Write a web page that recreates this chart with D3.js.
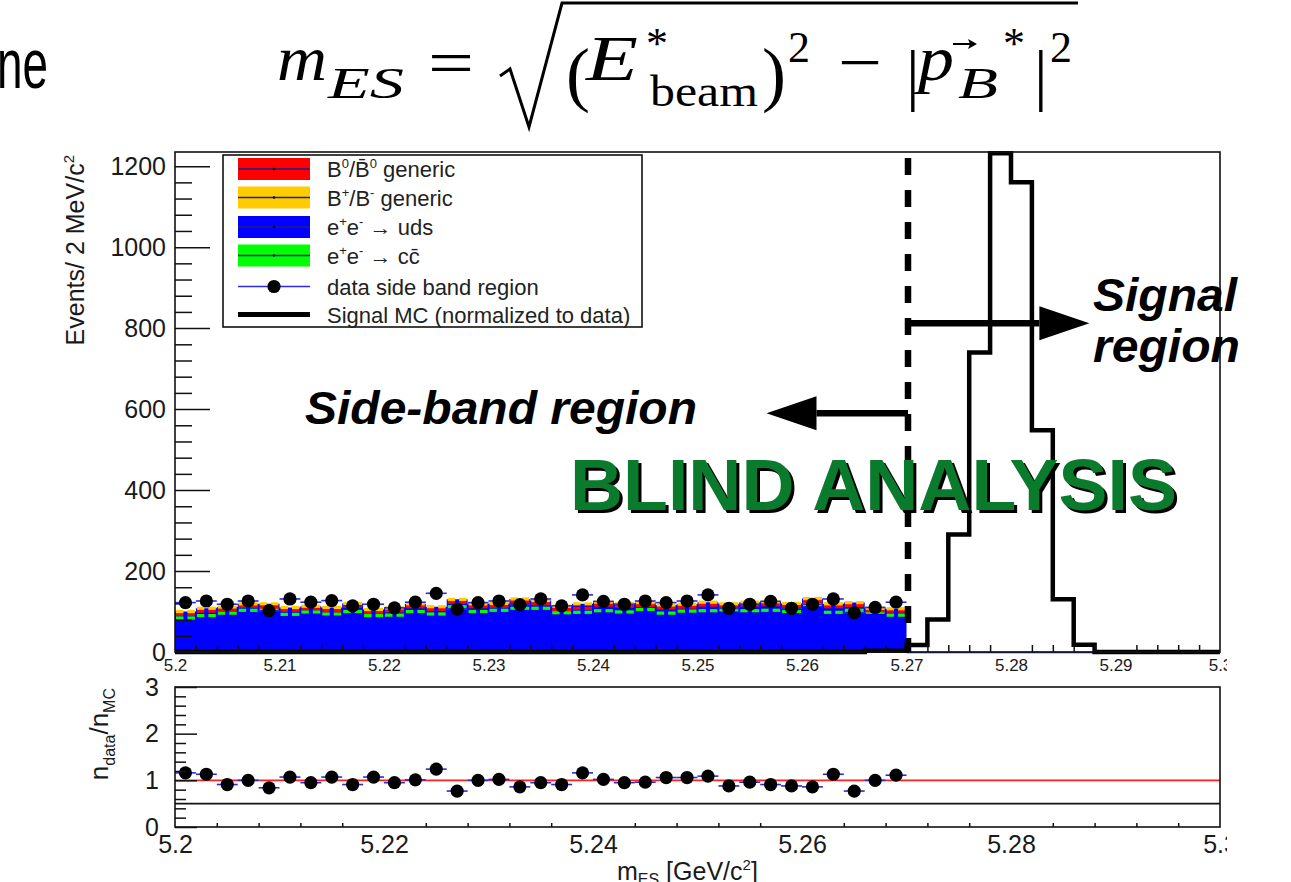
<!DOCTYPE html>
<html><head><meta charset="utf-8">
<script src="https://cdn.jsdelivr.net/npm/d3@7"></script>
<style>
body{margin:0;background:#fff;}
svg{display:block;font-family:"Liberation Sans",Arial,sans-serif;}
</style></head><body>
<svg id="c" width="1291" height="882"></svg>
<script>
// ---------------- DATA ----------------
const binLow = 5.2, binWidth = 0.002, nBins = 50;
const xTicksMain = [5.2,5.21,5.22,5.23,5.24,5.25,5.26,5.27,5.28,5.29,5.3];
const xTickLabelsMain = ["5.2","5.21","5.22","5.23","5.24","5.25","5.26","5.27","5.28","5.29","5.3"];
const yTicksMain = [0,200,400,600,800,1000,1200];
const xTicksRatio = [5.2,5.22,5.24,5.26,5.28,5.3];
const xTickLabelsRatio = ["5.2","5.22","5.24","5.26","5.28","5.3"];
const yTicksRatio = [0,1,2,3];

// data in side band (35 bins, 5.200-5.270)
const dataSideBand = [122,126,118,126,102,131,123,127,114,118,109,123,145,106,122,126,117,131,114,141,125,118,126,122,126,141,108,118,125,108,118,131,97,110,123];
// data in signal region (blinded: empty)
const dataSignalRegion = [0,0,0,0,0,0,0,0,0,0,0,0,0,0,0];
// MC backgrounds, stacked
const mcUds   = [76,83,87,95,97,84,92,86,92,82,82,92,87,104,92,94,100,100,90,90,94,90,97,88,94,94,96,94,94,92,109,90,96,90,82];
const mcCcbar = [8,7,9,8,8,9,7,8,8,8,9,8,7,8,8,9,8,8,7,8,8,9,8,8,7,8,8,8,9,8,8,8,7,8,9];
const mcB0    = [9,11,7,10,6,10,8,8,13,8,11,12,11,11,12,10,16,11,8,10,14,14,10,13,10,14,8,14,14,13,8,14,12,4,10];
const mcBpm   = [7,7,8,6,8,7,6,8,7,7,7,7,7,7,7,7,7,8,8,11,7,7,7,7,7,7,7,7,7,7,7,7,7,6,6];
// Signal MC (50 bins)
const signalMC = [0,0,0,0,0,0,0,0,0,0,0,0,0,0,0,0,0,0,0,0,0,0,0,0,0,0,0,0,0,0,0,0,0,3,3,
                  17,80,290,740,1232,1160,548,130,18,0,0,0,0,0,0];
// ratio n_data / n_MC (35 bins)
const ratio = [1.16,1.13,0.91,1.0,0.84,1.07,0.95,1.07,0.91,1.07,0.95,1.01,1.24,0.77,1.0,1.02,0.86,0.95,0.91,1.16,1.02,0.95,0.96,1.06,1.06,1.09,0.88,0.96,0.91,0.88,0.86,1.13,0.77,1.0,1.11];

const legendColors = ["#ff0000","#ffcc00","#0000ff","#00ff00"];
const legendLabels = [
  [["B",0],["0",1],["/",0],["B\u0304",0],["0",1],["  generic",0]],
  [["B",0],["+",1],["/B",0],["-",1],["  generic",0]],
  [["e",0],["+",1],["e",0],["-",1],["  \u2192 uds",0]],
  [["e",0],["+",1],["e",0],["-",1],["  \u2192 c",0],["c\u0304",0]],
  [["data side band region",0]],
  [["Signal MC (normalized to data)",0]]
];

// ---------------- SETUP ----------------
const svg = d3.select("#c");
const X0 = 175, X1 = 1220, Y0 = 652, Y1 = 152;
const RY0 = 827, RY1 = 687;
const x = d3.scaleLinear().domain([5.2, 5.3]).range([X0, X1]);
const y = d3.scaleLinear().domain([0, 1235]).range([Y0, Y1]);
const yr = d3.scaleLinear().domain([0, 3]).range([RY0, RY1]);
const edges = d3.range(nBins + 1).map(i => +(binLow + i * binWidth).toFixed(4));
const nSide = dataSideBand.length;
const SANS = "Liberation Sans, Arial, sans-serif";
const SERIF = "Liberation Serif, Times New Roman, serif";

const defs = svg.append("defs");
defs.append("clipPath").attr("id","labclip").append("rect").attr("x",0).attr("y",0).attr("width",1227).attr("height",882);

// ---------------- MAIN PLOT ----------------
const main = svg.append("g");

// stacked MC
const rows = mcUds.map((v,i)=>({uds:v, cc:mcCcbar[i], b0:mcB0[i], bp:mcBpm[i]}));
const series = d3.stack().keys(["uds","cc","b0","bp"])(rows);
const topSeries = series[3];
const areaPts = topSeries.map((s,i)=>({x:edges[i], v:s[1]}));
areaPts.push({x:edges[nSide], v:topSeries[nSide-1][1]});
main.append("path")
  .attr("d", d3.area().curve(d3.curveStepAfter).x(d=>x(d.x)).y0(y(0)).y1(d=>y(d.v))(areaPts))
  .attr("fill","#0000ff");

// colored error-bar style lines for ccbar, B0, B+ levels
const dashLayers = [[series[1],"#00ff00"],[series[2],"#ff0000"],[series[3],"#ffcc00"]];
dashLayers.forEach(([ser,col])=>{
  const g = main.append("g").attr("stroke",col).attr("stroke-width",3.2);
  ser.forEach((s,i)=>{
    const xa = x(edges[i]), xb = x(edges[i+1]), xc = (xa+xb)/2, yy = y(s[1]);
    g.append("line").attr("x1",xa+1).attr("x2",xc-2).attr("y1",yy).attr("y2",yy);
    g.append("line").attr("x1",xc+2).attr("x2",xb-1).attr("y1",yy).attr("y2",yy);
  });
});

// data error bars (blue)
const dErr = main.append("g").attr("stroke","#2a2ae0").attr("stroke-width",1.6);
dataSideBand.forEach((v,i)=>{
  const xa = x(edges[i]), xb = x(edges[i+1]), xc=(xa+xb)/2;
  const e = Math.sqrt(v);
  dErr.append("line").attr("x1",xa).attr("x2",xb).attr("y1",y(v)).attr("y2",y(v));
  dErr.append("line").attr("x1",xc).attr("x2",xc).attr("y1",y(v-e)).attr("y2",y(v+e));
});
dataSignalRegion.forEach((v,i)=>{
  const k = nSide + i;
  dErr.append("line").attr("x1",x(edges[k])).attr("x2",x(edges[k+1])).attr("y1",y(v)+0.5).attr("y2",y(v)+0.5);
});

// signal MC histogram
const sigPts = signalMC.map((v,i)=>({x:edges[i], v}));
sigPts.push({x:edges[nBins], v:signalMC[nBins-1]});
main.append("path")
  .attr("d", d3.line().curve(d3.curveStepAfter).x(d=>x(d.x)).y(d=>y(d.v))(sigPts))
  .attr("fill","none").attr("stroke","#000").attr("stroke-width",4.5);

// data markers
main.append("g").selectAll("circle").data(dataSideBand).join("circle")
  .attr("cx",(d,i)=>x((edges[i]+edges[i+1])/2)).attr("cy",d=>y(d)).attr("r",6.6).attr("fill","#000");

// frame
svg.append("rect").attr("x",X0).attr("y",Y1).attr("width",X1-X0).attr("height",Y0-Y1)
  .attr("fill","none").attr("stroke","#111").attr("stroke-width",1.6);

function styleAxis(g, fs){
  g.select(".domain").remove();
  g.selectAll(".tick line").attr("stroke","#111").attr("stroke-width",1.5);
  g.selectAll("text").attr("font-family",SANS).attr("font-size",fs).attr("fill","#1a1a1a");
}
// main y axis
svg.append("g").attr("transform",`translate(${X0},0)`)
  .call(d3.axisLeft(y).tickValues(yTicksMain).tickSize(-35).tickPadding(9).tickFormat(d3.format("d")))
  .call(g=>styleAxis(g,25));
svg.append("g").attr("transform",`translate(${X0},0)`)
  .call(d3.axisLeft(y).tickValues(d3.range(40,1235,40).filter(v=>v%200!==0)).tickSize(-17).tickFormat(""))
  .call(g=>styleAxis(g,10));
// main x axis
svg.append("g").attr("transform",`translate(0,${Y0})`).attr("clip-path","url(#labclip)")
  .call(d3.axisBottom(x).tickValues(xTicksMain).tickSize(-12).tickPadding(7).tickFormat((d,i)=>xTickLabelsMain[i]))
  .call(g=>styleAxis(g,17));
svg.append("g").attr("transform",`translate(0,${Y0})`)
  .call(d3.axisBottom(x).tickValues(edges.filter((e,i)=>i%5!==0)).tickSize(-7).tickFormat(""))
  .call(g=>styleAxis(g,10));

// y axis title
const yt = svg.append("text").attr("transform",`translate(84,155) rotate(-90)`).attr("text-anchor","end")
  .attr("font-size",25).attr("fill","#1a1a1a");
yt.append("tspan").text("Events/ 2 MeV/c");
yt.append("tspan").attr("dy",-10).attr("font-size",15).text("2");

// dashed cut line
svg.append("line").attr("x1",x(5.27)+1.5).attr("x2",x(5.27)+1.5).attr("y1",y(1220)).attr("y2",y(0))
  .attr("stroke","#000").attr("stroke-width",6.5).attr("stroke-dasharray","17,15");

// arrows
function arrow(xFrom, xTip, yv){
  const xs = x(xFrom)+1.5, xt = x(xTip), yy = y(yv);
  const dir = Math.sign(xt - xs), head = 50, hh = 17;
  svg.append("line").attr("x1",xs).attr("x2",xt - dir*head).attr("y1",yy).attr("y2",yy)
    .attr("stroke","#000").attr("stroke-width",6.5);
  svg.append("path").attr("d",`M${xt},${yy} L${xt-dir*head},${yy-hh} L${xt-dir*head},${yy+hh} Z`).attr("fill","#000");
}
arrow(5.27, 5.2875, 812);
arrow(5.27, 5.2566, 590);

// annotation text
function annText(t,xx,yy,len){
  svg.append("text").attr("x",xx).attr("y",yy).text(t).attr("textLength",len).attr("lengthAdjust","spacingAndGlyphs")
    .attr("font-weight","bold").attr("font-style","italic").attr("font-size",47).attr("fill","#000");
}
annText("Side-band region",305,424,392);
annText("Signal",1093,311,144);
annText("region",1093,362,147);

// BLIND ANALYSIS
svg.append("text").attr("x",573).attr("y",513).attr("font-size",72).attr("font-weight","bold")
  .attr("textLength",607).attr("lengthAdjust","spacingAndGlyphs").attr("fill","#000").text("BLIND ANALYSIS");
svg.append("text").attr("x",570).attr("y",510).attr("font-size",72).attr("font-weight","bold")
  .attr("textLength",607).attr("lengthAdjust","spacingAndGlyphs").attr("fill","#0a7a2c").text("BLIND ANALYSIS");

// legend
const lg = svg.append("g");
lg.append("rect").attr("x",223).attr("y",155).attr("width",419).attr("height",172)
  .attr("fill","#fff").attr("stroke","#111").attr("stroke-width",1.6);
const rowY = [169,197.5,227,255.5,286.5,314.5];
legendLabels.forEach((segs,i)=>{
  const cy = rowY[i];
  if(i<4){
    lg.append("rect").attr("x",238).attr("y",cy-11).attr("width",72).attr("height",22).attr("fill",legendColors[i]);
    lg.append("line").attr("x1",238).attr("x2",310).attr("y1",cy).attr("y2",cy).attr("stroke","#1c1c8c").attr("stroke-width",1.6);
    lg.append("circle").attr("cx",274).attr("cy",cy).attr("r",1.2).attr("fill","#000");
  } else if(i===4){
    lg.append("line").attr("x1",238).attr("x2",310).attr("y1",cy).attr("y2",cy).attr("stroke","#2a2ae0").attr("stroke-width",1.6);
    lg.append("circle").attr("cx",274).attr("cy",cy).attr("r",6.6).attr("fill","#000");
  } else {
    lg.append("line").attr("x1",238).attr("x2",310).attr("y1",cy).attr("y2",cy).attr("stroke","#000").attr("stroke-width",5);
  }
  const t = lg.append("text").attr("x",327).attr("y",cy+8).attr("font-size",22).attr("fill","#222");
  let sup = false;
  segs.forEach(([s,isSup])=>{
    const ts = t.append("tspan").text(s);
    if(isSup && !sup){ ts.attr("dy",-9).attr("font-size",13); sup = true; }
    else if(isSup && sup){ ts.attr("font-size",13); }
    else if(!isSup && sup){ ts.attr("dy",9); sup = false; }
  });
});

// ---------------- RATIO PANEL ----------------
svg.append("line").attr("x1",X0).attr("x2",X1).attr("y1",yr(1)).attr("y2",yr(1)).attr("stroke","#ff2020").attr("stroke-width",1.6);
svg.append("line").attr("x1",X0).attr("x2",X1).attr("y1",yr(0.5)).attr("y2",yr(0.5)).attr("stroke","#111").attr("stroke-width",1.6);
const rErr = svg.append("g").attr("stroke","#2a2ae0").attr("stroke-width",1.6);
ratio.forEach((r,i)=>{
  const xa = x(edges[i]), xb = x(edges[i+1]), xc=(xa+xb)/2;
  const e = r/Math.sqrt(dataSideBand[i]);
  rErr.append("line").attr("x1",xa).attr("x2",xb).attr("y1",yr(r)).attr("y2",yr(r));
  rErr.append("line").attr("x1",xc).attr("x2",xc).attr("y1",yr(r-e)).attr("y2",yr(r+e)).attr("stroke","#000");
});
svg.append("g").selectAll("circle").data(ratio).join("circle")
  .attr("cx",(d,i)=>x((edges[i]+edges[i+1])/2)).attr("cy",d=>yr(d)).attr("r",6.6).attr("fill","#000");
svg.append("rect").attr("x",X0).attr("y",RY1).attr("width",X1-X0).attr("height",RY0-RY1)
  .attr("fill","none").attr("stroke","#111").attr("stroke-width",1.6);
svg.append("g").attr("transform",`translate(${X0},0)`)
  .call(d3.axisLeft(yr).tickValues(yTicksRatio).tickSize(-22).tickPadding(16).tickFormat(d3.format("d")))
  .call(g=>styleAxis(g,25));
svg.append("g").attr("transform",`translate(${X0},0)`)
  .call(d3.axisLeft(yr).tickValues(d3.range(0.2,3,0.2).filter(v=>Math.abs(v-Math.round(v))>1e-6)).tickSize(-11).tickFormat(""))
  .call(g=>styleAxis(g,10));
svg.append("g").attr("transform",`translate(0,${RY0})`).attr("clip-path","url(#labclip)")
  .call(d3.axisBottom(x).tickValues(xTicksRatio).tickSize(-8).tickPadding(8).tickFormat((d,i)=>xTickLabelsRatio[i]))
  .call(g=>styleAxis(g,25));
svg.append("g").attr("transform",`translate(0,${RY0})`)
  .call(d3.axisBottom(x).tickValues(d3.range(1,25).filter(i=>i%5!==0).map(i=>5.2+i*0.004)).tickSize(-4).tickFormat(""))
  .call(g=>styleAxis(g,10));

// ratio y title
const ryt = svg.append("text").attr("transform",`translate(108,688) rotate(-90)`).attr("text-anchor","end")
  .attr("font-size",26).attr("fill","#1a1a1a");
ryt.append("tspan").text("n");
ryt.append("tspan").attr("dy",7).attr("font-size",16).text("data");
ryt.append("tspan").attr("dy",-7).text("/n");
ryt.append("tspan").attr("dy",7).attr("font-size",16).text("MC");

// ratio x title
const rxt = svg.append("text").attr("x",617).attr("y",880).attr("font-size",25).attr("fill","#1a1a1a");
rxt.append("tspan").text("m");
rxt.append("tspan").attr("dy",5).attr("font-size",16).text("ES");
rxt.append("tspan").attr("dy",-5).text(" [GeV/c");
rxt.append("tspan").attr("dy",-10).attr("font-size",15).text("2");
rxt.append("tspan").attr("dy",10).text("]");

// ---------------- TOP FORMULA ----------------
svg.append("text").attr("x",-3).attr("y",88).attr("font-size",70).attr("textLength",51)
  .attr("lengthAdjust","spacingAndGlyphs").attr("fill","#000").text("ne");
const fm = svg.append("g").attr("fill","#000");
function ft(t,xx,yy,fs,italic,len){
  const e = fm.append("text").attr("x",xx).attr("y",yy).attr("font-size",fs)
    .attr("font-family",SERIF).text(t);
  if(italic) e.attr("font-style","italic");
  if(len) e.attr("textLength",len).attr("lengthAdjust","spacingAndGlyphs");
}
ft("m",277,80,64,true,50);
ft("ES",328,98,44,true,76);
ft("=",428,84,64,false,46);
fm.append("path").attr("d","M500,76 L510,69 L529,127 L562,3 L1078,3").attr("fill","none").attr("stroke","#000").attr("stroke-width",3).attr("stroke-linejoin","miter");
ft("(",566,98,72,false);
ft("E",586,80,64,true,52);
ft("*",646,58,44,false);
ft("beam",650,106,44,false,108);
ft(")",762,98,72,false);
ft("2",788,62,44,false);
ft("\u2212",838,84,64,false,44);
ft("|",906,98,68,false);
ft("p",918,80,64,true,36);
fm.append("line").attr("x1",953).attr("x2",974).attr("y1",44).attr("y2",44).attr("stroke","#000").attr("stroke-width",2);
fm.append("path").attr("d","M977,44 L968,39 L970,44 L968,49 Z").attr("fill","#000");
ft("B",958,98,44,true,40);
ft("*",1003,58,44,false);
ft("|",1034,98,68,false);
ft("2",1050,62,44,false);
</script>
</body></html>
